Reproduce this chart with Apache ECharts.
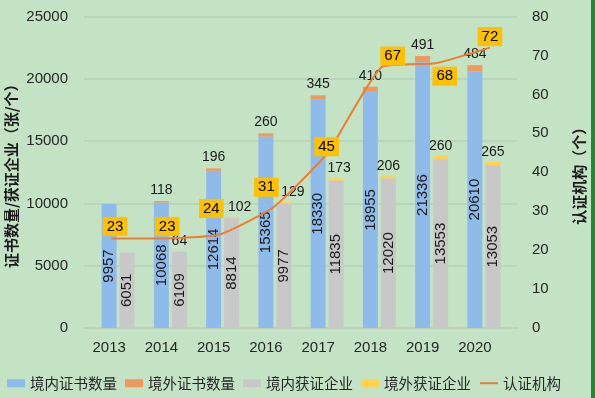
<!DOCTYPE html>
<html>
<head>
<meta charset="utf-8">
<script src="https://cdn.jsdelivr.net/npm/echarts@6/dist/echarts.min.js"></script>
<style>
html,body{margin:0;padding:0;background:#c4e3c5;}
#chart{width:595px;height:398px;}
</style>
</head>
<body>
<div id="chart"></div>
<script>
// 数据
var years = ['2013', '2014', '2015', '2016', '2017', '2018', '2019', '2020'];
var certDomestic = [9957, 10068, 12614, 15365, 18330, 18955, 21336, 20610];
var certOverseas = [null, 118, 196, 260, 345, 410, 491, 484];
var firmDomestic = [6051, 6109, 8814, 9977, 11835, 12020, 13553, 13053];
var firmOverseas = [null, 64, 102, 129, 173, 206, 260, 265];
var agencies = [23, 23, 24, 31, 45, 67, 68, 72];
// 标签的微调 (像素)
var agencyLabelNudge = [[4, -12], [2, -12], [-8, -26], [-7, -20], [-1, -6], [11, -11], [9, 13], [0, -11]];
var firmOverseasNudge = [0, 0, 8, 9, 3, 0, 0, 0];

var FONT = 'Liberation Sans, Noto Sans CJK SC, sans-serif';
var chart = echarts.init(document.getElementById('chart'));

var lineData = agencies.map(function (v, i) {
    return {
        value: v,
        label: { offset: [agencyLabelNudge[i][0], agencyLabelNudge[i][1] + 9.5] }
    };
});
var firmOverseasData = firmOverseas.map(function (v, i) {
    return { value: v, label: { offset: [firmOverseasNudge[i], 0] } };
});

option = {
    backgroundColor: '#c4e3c5',
    textStyle: { fontFamily: FONT },
    grid: [
        { left: 92, right: 85, top: 16.5, bottom: 70, outerBoundsMode: 'none' },
        { left: 84, right: 78, top: 16.5, bottom: 70, outerBoundsMode: 'none' }
    ],
    legend: {
        left: 2, top: 371,
        itemWidth: 18, itemHeight: 8, itemGap: 8,
        textStyle: { fontSize: 14.5, color: '#262626', fontFamily: 'Noto Sans CJK SC' },
        data: [
            { name: '境内证书数量', icon: 'rect' },
            { name: '境外证书数量', icon: 'rect' },
            { name: '境内获证企业', icon: 'rect' },
            { name: '境外获证企业', icon: 'rect' },
            { name: '认证机构', itemStyle: { opacity: 0 } }
        ]
    },
    xAxis: [
        {
            type: 'category', gridIndex: 0, data: years,
            axisLine: { show: false }, axisTick: { show: false },
            axisLabel: { fontSize: 15, color: '#262626', margin: 12, padding: [0, 18, 0, 0] }
        },
        {
            type: 'category', gridIndex: 1, data: years,
            axisLine: { lineStyle: { color: '#bcd0bd', width: 1.5 } },
            axisTick: { show: false }, axisLabel: { show: false }
        }
    ],
    yAxis: [
        {
            type: 'value', gridIndex: 0, min: 0, max: 25000, interval: 5000,
            splitLine: { show: false },
            axisLabel: {
                fontSize: 15, color: '#262626', margin: 24,
                formatter: function (v) { return String(v); }
            },
            name: '证书数量/获证企业（张/个）', nameLocation: 'middle', nameGap: 73, nameMoveOverlap: false,
            nameTextStyle: { fontSize: 15, fontWeight: 'bold', color: '#1a1a1a', fontFamily: 'Noto Sans CJK SC' }
        },
        {
            type: 'value', gridIndex: 1, position: 'right', min: 0, max: 80, interval: 10,
            splitLine: { show: false },
            axisLabel: { fontSize: 15, color: '#262626', margin: 15 },
            name: '认证机构（个）', nameLocation: 'middle', nameGap: 55, nameRotate: 90, nameMoveOverlap: false,
            nameTextStyle: { fontSize: 15, fontWeight: 'bold', color: '#1a1a1a', fontFamily: 'Noto Sans CJK SC' }
        },
        {
            type: 'value', gridIndex: 1, position: 'left', min: 0, max: 25000, interval: 5000,
            axisLabel: { show: false },
            splitLine: { lineStyle: { color: '#b4d2b6', width: 1.5 } }
        }
    ],
    series: [
        {
            name: '境内证书数量', type: 'bar', stack: 'cert', xAxisIndex: 0, yAxisIndex: 0,
            data: certDomestic, barWidth: 15, barGap: '20%',
            itemStyle: { color: '#8fbbea' },
            label: { show: true, position: 'inside', rotate: 90, fontSize: 15, color: '#1a1a1a' }
        },
        {
            name: '境外证书数量', type: 'bar', stack: 'cert', xAxisIndex: 0, yAxisIndex: 0,
            data: certOverseas, barWidth: 15,
            itemStyle: { color: '#f0995c' },
            label: { show: true, position: 'top', fontSize: 14, color: '#1a1a1a', distance: 4 }
        },
        {
            name: '境内获证企业', type: 'bar', stack: 'firm', xAxisIndex: 0, yAxisIndex: 0,
            data: firmDomestic, barWidth: 15,
            itemStyle: { color: '#c8c8c8' },
            label: { show: true, position: 'inside', rotate: 90, fontSize: 15, color: '#1a1a1a' }
        },
        {
            name: '境外获证企业', type: 'bar', stack: 'firm', xAxisIndex: 0, yAxisIndex: 0,
            data: firmOverseasData, barWidth: 15,
            itemStyle: { color: '#ffd34d' },
            label: { show: true, position: 'top', fontSize: 14, color: '#1a1a1a', distance: 3 }
        },
        {
            name: '认证机构', type: 'line', xAxisIndex: 1, yAxisIndex: 1,
            data: lineData, smooth: 0.15, symbol: 'circle', symbolSize: 0.1,
            lineStyle: { color: '#ed7d31', width: 2 },
            itemStyle: { color: '#ed7d31' },
            label: {
                show: true, position: 'top', distance: 0, fontSize: 15, color: '#000',
                backgroundColor: '#ffc000', padding: [2, 4]
            },
            z: 5
        }
    ],
    graphic: [
        { type: 'rect', right: 0, top: 0, shape: { width: 4, height: 398 }, style: { fill: '#1f8a30' } }
    ]
};

chart.setOption(option);
</script>
</body>
</html>
